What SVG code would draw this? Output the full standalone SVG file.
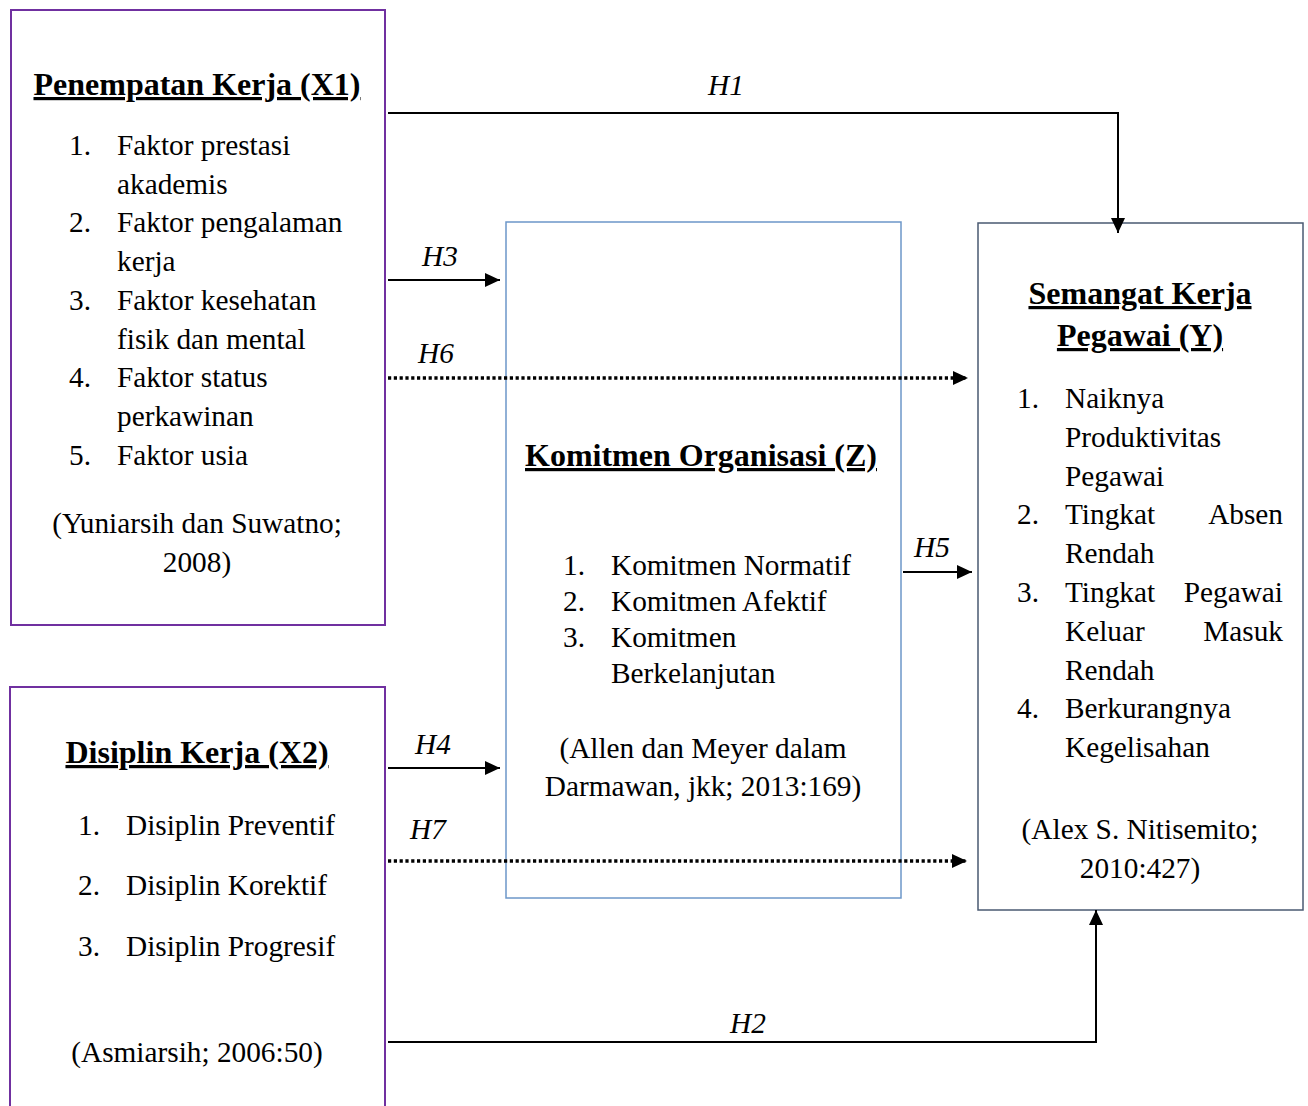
<svg xmlns="http://www.w3.org/2000/svg" width="1308" height="1106" viewBox="0 0 1308 1106">
  <style>
    text { font-family: "Liberation Serif", "Times New Roman", serif; fill: #000; }
    .t { font-size: 29.3px; }
    .b { font-size: 32px; font-weight: bold; text-decoration: underline; }
    .h { font-size: 29.3px; font-style: italic; }
    .c { text-anchor: middle; }
    .e { text-anchor: end; }
    .var { fill: #fff; stroke: #7030A0; stroke-width: 2; }
    .med { fill: #fff; stroke: #6C97C9; stroke-width: 1.5; }
    .dep { fill: #fff; stroke: #4A5A72; stroke-width: 1.5; }
    .solid { fill: none; stroke: #000; stroke-width: 2; }
    .dot { fill: none; stroke: #000; stroke-width: 3.5; stroke-dasharray: 3.2 2.6; }
  </style>
  <defs>
    <marker id="arrow" viewBox="0 0 15 14" refX="15" refY="7" markerWidth="15" markerHeight="14" markerUnits="userSpaceOnUse" orient="auto">
      <path d="M0,0 L15,7 L0,14 Z" fill="#000"/>
    </marker>
  </defs>

  <rect width="1308" height="1106" fill="#fff"/>

  <!-- Penempatan Kerja (X1) -->
  <g id="node-x1">
    <rect class="var" x="11" y="10" width="374" height="615"/>
    <text class="b c" x="197" y="95">Penempatan Kerja (X1)</text>
    <text class="t" x="69" y="155">1.</text>
    <text class="t" x="117" y="155">Faktor prestasi</text>
    <text class="t" x="117" y="193.7">akademis</text>
    <text class="t" x="69" y="232.4">2.</text>
    <text class="t" x="117" y="232.4">Faktor pengalaman</text>
    <text class="t" x="117" y="271.1">kerja</text>
    <text class="t" x="69" y="309.8">3.</text>
    <text class="t" x="117" y="309.8">Faktor kesehatan</text>
    <text class="t" x="117" y="348.5">fisik dan mental</text>
    <text class="t" x="69" y="387.2">4.</text>
    <text class="t" x="117" y="387.2">Faktor status</text>
    <text class="t" x="117" y="425.9">perkawinan</text>
    <text class="t" x="69" y="464.6">5.</text>
    <text class="t" x="117" y="464.6">Faktor usia</text>
    <text class="t c" x="197" y="533">(Yuniarsih dan Suwatno;</text>
    <text class="t c" x="197" y="572">2008)</text>
  </g>

  <!-- Disiplin Kerja (X2) -->
  <g id="node-x2">
    <rect class="var" x="10" y="687" width="375" height="440"/>
    <text class="b c" x="197" y="763">Disiplin Kerja (X2)</text>
    <text class="t" x="78" y="835">1.</text>
    <text class="t" x="126" y="835">Disiplin Preventif</text>
    <text class="t" x="78" y="895">2.</text>
    <text class="t" x="126" y="895">Disiplin Korektif</text>
    <text class="t" x="78" y="956">3.</text>
    <text class="t" x="126" y="956">Disiplin Progresif</text>
    <text class="t c" x="197" y="1062">(Asmiarsih; 2006:50)</text>
  </g>

  <!-- Komitmen Organisasi (Z) -->
  <g id="node-z">
    <rect class="med" x="506" y="222" width="395" height="676"/>
    <text class="b c" x="701" y="466">Komitmen Organisasi (Z)</text>
    <text class="t" x="563" y="575">1.</text>
    <text class="t" x="611" y="575">Komitmen Normatif</text>
    <text class="t" x="563" y="611">2.</text>
    <text class="t" x="611" y="611">Komitmen Afektif</text>
    <text class="t" x="563" y="647">3.</text>
    <text class="t" x="611" y="647">Komitmen</text>
    <text class="t" x="611" y="683">Berkelanjutan</text>
    <text class="t c" x="703" y="758">(Allen dan Meyer dalam</text>
    <text class="t c" x="703" y="796">Darmawan, jkk; 2013:169)</text>
  </g>

  <!-- Semangat Kerja Pegawai (Y) -->
  <g id="node-y">
    <rect class="dep" x="978" y="223" width="325" height="687"/>
    <text class="b c" x="1140" y="304">Semangat Kerja</text>
    <text class="b c" x="1140" y="346">Pegawai (Y)</text>
    <text class="t" x="1017" y="408">1.</text>
    <text class="t" x="1065" y="408">Naiknya</text>
    <text class="t" x="1065" y="446.8">Produktivitas</text>
    <text class="t" x="1065" y="485.6">Pegawai</text>
    <text class="t" x="1017" y="524.4">2.</text>
    <text class="t" x="1065" y="524.4">Tingkat</text>
    <text class="t e" x="1283" y="524.4">Absen</text>
    <text class="t" x="1065" y="563.2">Rendah</text>
    <text class="t" x="1017" y="602">3.</text>
    <text class="t" x="1065" y="602">Tingkat</text>
    <text class="t e" x="1283" y="602">Pegawai</text>
    <text class="t" x="1065" y="640.8">Keluar</text>
    <text class="t e" x="1283" y="640.8">Masuk</text>
    <text class="t" x="1065" y="679.6">Rendah</text>
    <text class="t" x="1017" y="718.4">4.</text>
    <text class="t" x="1065" y="718.4">Berkurangnya</text>
    <text class="t" x="1065" y="757.2">Kegelisahan</text>
    <text class="t c" x="1140" y="839">(Alex S. Nitisemito;</text>
    <text class="t c" x="1140" y="878">2010:427)</text>
  </g>

  <!-- Hypothesis paths -->
  <g id="connectors">
    <path class="solid" d="M388,113 H1118 V233" marker-end="url(#arrow)"/>
    <path class="solid" d="M388,1042 H1096 V910" marker-end="url(#arrow)"/>
    <line class="solid" x1="388" y1="280" x2="500" y2="280" marker-end="url(#arrow)"/>
    <line class="solid" x1="388" y1="768" x2="500" y2="768" marker-end="url(#arrow)"/>
    <line class="solid" x1="903" y1="572" x2="972" y2="572" marker-end="url(#arrow)"/>
    <line class="dot" x1="388" y1="378" x2="968" y2="378" marker-end="url(#arrow)"/>
    <line class="dot" x1="388" y1="861" x2="967" y2="861" marker-end="url(#arrow)"/>
    <text class="h" x="708" y="95">H1</text>
    <text class="h" x="422" y="266">H3</text>
    <text class="h" x="418" y="363">H6</text>
    <text class="h" x="914" y="557">H5</text>
    <text class="h" x="415" y="754">H4</text>
    <text class="h" x="410" y="839">H7</text>
    <text class="h" x="730" y="1033">H2</text>
  </g>
</svg>
